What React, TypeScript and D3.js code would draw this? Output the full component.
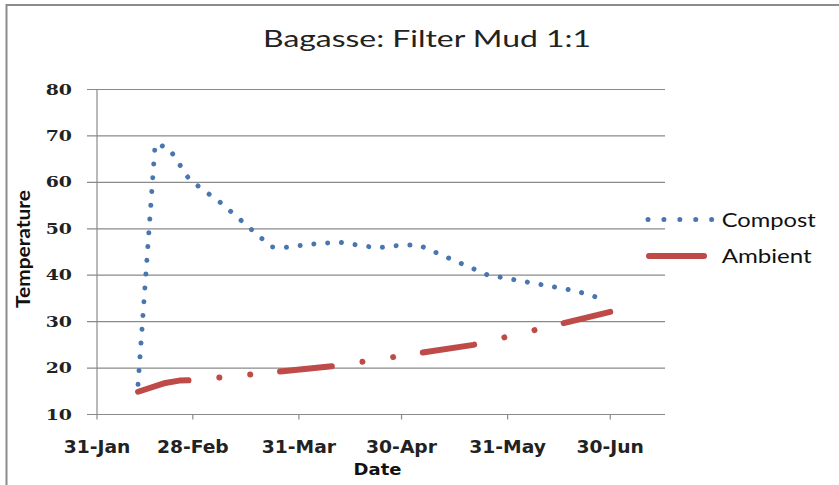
import React from "react";
import * as d3 from "d3";

const title = "Bagasse: Filter Mud 1:1";
const xTitle = "Date";
const yTitle = "Temperature";
const seriesNames = ["Compost", "Ambient"];

const compostDates = [
  "2009-02-12", "2009-02-17", "2009-02-21", "2009-02-27", "2009-03-08",
  "2009-03-23", "2009-03-27", "2009-04-05", "2009-04-12", "2009-04-18",
  "2009-04-23", "2009-04-30", "2009-05-05", "2009-05-25", "2009-06-20",
  "2009-06-29",
];
const compostValues = [
  16.5, 68.3, 67.4, 60.6, 55.7,
  46.1, 46.0, 46.8, 47.1, 46.4,
  45.9, 46.5, 46.5, 40.1, 36.6,
  34.6,
];

const ambientDates = [
  "2009-02-12", "2009-02-20", "2009-02-24", "2009-02-28", "2009-04-10",
  "2009-05-05", "2009-05-21", "2009-06-30",
];
const ambientValues = [14.9, 16.8, 17.3, 17.4, 20.4, 23.2, 25.0, 32.1];

const xTickDates = ["2009-01-31", "2009-02-28", "2009-03-31", "2009-04-30", "2009-05-31", "2009-06-30"];
const xDomain = ["2009-01-31", "2009-07-16"];
const yTicks = [10, 20, 30, 40, 50, 60, 70, 80];

const parse = d3.timeParse("%Y-%m-%d");
const fmt = d3.timeFormat("%-d-%b");

export default function App() {
  const W = 839, H = 485;
  const left = 97, right = 665, top = 89.5, bottom = 414.5;

  const x = d3.scaleTime().domain(xDomain.map((s) => parse(s) as Date)).range([left, right]);
  const y = d3.scaleLinear().domain([10, 80]).range([bottom, top]);

  const compost = compostDates.map((d, i) => ({ date: parse(d) as Date, value: compostValues[i] }));
  const ambient = ambientDates.map((d, i) => ({ date: parse(d) as Date, value: ambientValues[i] }));

  const line = d3
    .line<{ date: Date; value: number }>()
    .x((d) => x(d.date))
    .y((d) => y(d.value));

  const blue = "#4A76B0";
  const red = "#BE4B48";
  const grid = "#8a8a8a";

  return (
    <svg
      width={W}
      height={H}
      style={{ position: "absolute", left: 0, top: 0, background: "#fff" }}
    >
      <rect x={0} y={0} width={W} height={H} fill="#fff" />
      <rect x={6.5} y={5} width={900} height={900} fill="none" stroke="#8c8c8c" strokeWidth={2} />

      <text
        x={263}
        y={46.5}
        fontFamily="Lato, 'Open Sans', sans-serif"
        fontSize={24}
        fill="#222"
        textLength={328}
        lengthAdjust="spacingAndGlyphs"
      >
        {title}
      </text>

      {yTicks.map((t) => (
        <g key={t}>
          <line x1={87} x2={right} y1={y(t)} y2={y(t)} stroke={grid} strokeWidth={1.2} />
          <text
            transform={`translate(72,${y(t) + 5}) scale(1.35,1)`}
            textAnchor="end"
            fontFamily="'DejaVu Serif', serif"
            fontWeight="bold"
            fontSize={14}
            fill="#222"
          >
            {t}
          </text>
        </g>
      ))}

      <line x1={left} x2={left} y1={top} y2={bottom} stroke={grid} strokeWidth={1.2} />

      {xTickDates.map((s) => {
        const d = parse(s) as Date;
        const px = x(d);
        return (
          <g key={s}>
            <line x1={px} x2={px} y1={bottom} y2={bottom + 5} stroke={grid} strokeWidth={1.2} />
            <text
              transform={`translate(${px},453) scale(1.1,1)`}
              textAnchor="middle"
              fontFamily="'DejaVu Sans', sans-serif"
              fontWeight="bold"
              fontSize={17}
              fill="#222"
            >
              {fmt(d)}
            </text>
          </g>
        );
      })}

      <text
        transform="translate(377.5,475) scale(1.2,1)"
        textAnchor="middle"
        fontFamily="'DejaVu Sans', sans-serif"
        fontWeight="bold"
        fontSize={15}
        fill="#111"
      >
        {xTitle}
      </text>
      <text
        transform="translate(30,249) scale(1.3,1) rotate(-90)"
        textAnchor="middle"
        fontFamily="Lato, 'Open Sans', sans-serif"
        fontWeight="bold"
        fontSize={14}
        fill="#111"
        textLength={118}
        lengthAdjust="spacingAndGlyphs"
      >
        {yTitle}
      </text>

      <path
        d={line(ambient) || ""}
        fill="none"
        stroke={red}
        strokeWidth={6}
        strokeLinecap="round"
        strokeLinejoin="round"
        strokeDasharray="52 31 0.01 31 0.01 30"
      />
      <path
        d={line(compost) || ""}
        fill="none"
        stroke={blue}
        strokeWidth={5}
        strokeLinecap="round"
        strokeLinejoin="round"
        strokeDasharray="0.01 13.8"
      />

      <line x1={648} x2={712} y1={219.5} y2={219.5} stroke={blue} strokeWidth={5} strokeLinecap="round" strokeDasharray="0.01 15.9" />
      <text
        x={721.7}
        y={226.5}
        fontFamily="Lato, 'Open Sans', sans-serif"
        fontSize={18.5}
        fill="#111"
        textLength={94}
        lengthAdjust="spacingAndGlyphs"
      >
        {seriesNames[0]}
      </text>
      <line x1={649} x2={704} y1={256} y2={256} stroke={red} strokeWidth={6} strokeLinecap="round" />
      <text
        x={721.7}
        y={263}
        fontFamily="Lato, 'Open Sans', sans-serif"
        fontSize={18.5}
        fill="#111"
        textLength={90}
        lengthAdjust="spacingAndGlyphs"
      >
        {seriesNames[1]}
      </text>
    </svg>
  );
}
